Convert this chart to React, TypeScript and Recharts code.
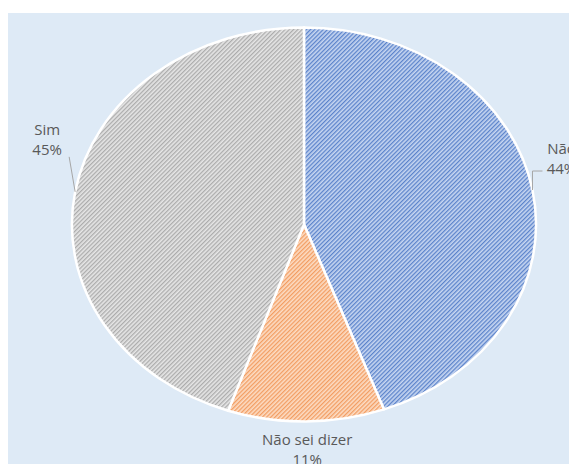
import { PieChart, Pie, Cell } from 'recharts';

const names = ['Não', 'Não sei dizer', 'Sim'];
const values = [44.4, 10.9, 44.7];
const patternIds = ['hatchBlue', 'hatchOrange', 'hatchGray'];

const data = names.map((name, i) => ({ name, value: values[i] }));

const RADIAN = Math.PI / 180;
// pie is stretched horizontally in the reference
const X_STRETCH = 1.178;
const TEXT = '#595959';
const LEADER = '#A6A6A6';

function ellipsePoint(cx: number, cy: number, r: number, angle: number) {
  return {
    x: cx + r * X_STRETCH * Math.cos(-angle * RADIAN),
    y: cy + r * Math.sin(-angle * RADIAN),
  };
}

function EllipseSector(props: any) {
  const { cx, cy, outerRadius, startAngle, endAngle, fill } = props;
  const p0 = ellipsePoint(cx, cy, outerRadius, startAngle);
  const p1 = ellipsePoint(cx, cy, outerRadius, endAngle);
  const large = Math.abs(endAngle - startAngle) > 180 ? 1 : 0;
  const sweep = endAngle < startAngle ? 1 : 0;
  const d = `M${cx},${cy} L${p0.x},${p0.y} A${outerRadius * X_STRETCH},${outerRadius} 0 ${large} ${sweep} ${p1.x},${p1.y} Z`;
  return <path d={d} fill={fill} stroke="#ffffff" strokeWidth={2.5} strokeLinejoin="round" />;
}

function SliceLabel(props: any) {
  const { cx, cy, midAngle, outerRadius, index, name, percent } = props;
  const e = ellipsePoint(cx, cy, outerRadius, midAngle);
  const pct = `${Math.round(percent * 100)}%`;
  const txt = { fill: TEXT, fontSize: 15, fontFamily: '"Open Sans", sans-serif', textAnchor: 'middle' as const };
  if (index === 0) {
    return (
      <g>
        <polyline points={`${e.x},${e.y} ${e.x},${e.y - 19} ${e.x + 10},${e.y - 19}`} fill="none" stroke={LEADER} strokeWidth={1} />
        <text x={e.x + 29} y={e.y - 36} {...txt}>{name}</text>
        <text x={e.x + 29} y={e.y - 16} {...txt}>{pct}</text>
      </g>
    );
  }
  if (index === 1) {
    return (
      <g>
        <text x={e.x + 1} y={e.y + 24} {...txt}>{name}</text>
        <text x={e.x + 1} y={e.y + 44} {...txt}>{pct}</text>
      </g>
    );
  }
  return (
    <g>
      <line x1={e.x} y1={e.y} x2={e.x - 6} y2={e.y - 35} stroke={LEADER} strokeWidth={1} />
      <text x={e.x - 28} y={e.y - 57} {...txt}>{name}</text>
      <text x={e.x - 28} y={e.y - 37} {...txt}>{pct}</text>
    </g>
  );
}

export default function App() {
  return (
    <div style={{ paddingTop: 5, width: 569 }}>
      <PieChart width={569} height={451} style={{ background: '#DEEAF6' }} margin={{ top: 0, right: 0, bottom: 0, left: 0 }}>
        <defs>
          <pattern id="hatchBlue" patternUnits="userSpaceOnUse" width={3} height={3} patternTransform="rotate(45)">
            <rect width={3} height={3} fill="#C7D6F1" />
            <rect width={1.3} height={3} fill="#5B83CB" />
          </pattern>
          <pattern id="hatchOrange" patternUnits="userSpaceOnUse" width={3} height={3} patternTransform="rotate(45)">
            <rect width={3} height={3} fill="#FCDCC4" />
            <rect width={1.3} height={3} fill="#F29D62" />
          </pattern>
          <pattern id="hatchGray" patternUnits="userSpaceOnUse" width={3} height={3} patternTransform="rotate(45)">
            <rect width={3} height={3} fill="#E6E6E6" />
            <rect width={1.3} height={3} fill="#ACACAC" />
          </pattern>
        </defs>
        <Pie
          data={data}
          dataKey="value"
          nameKey="name"
          cx={296}
          cy={211.5}
          outerRadius={197}
          startAngle={90}
          endAngle={-270}
          shape={EllipseSector}
          label={SliceLabel}
          labelLine={false}
          isAnimationActive={false}
        >
          {data.map((d, i) => (
            <Cell key={d.name} fill={`url(#${patternIds[i]})`} />
          ))}
        </Pie>
      </PieChart>
    </div>
  );
}
